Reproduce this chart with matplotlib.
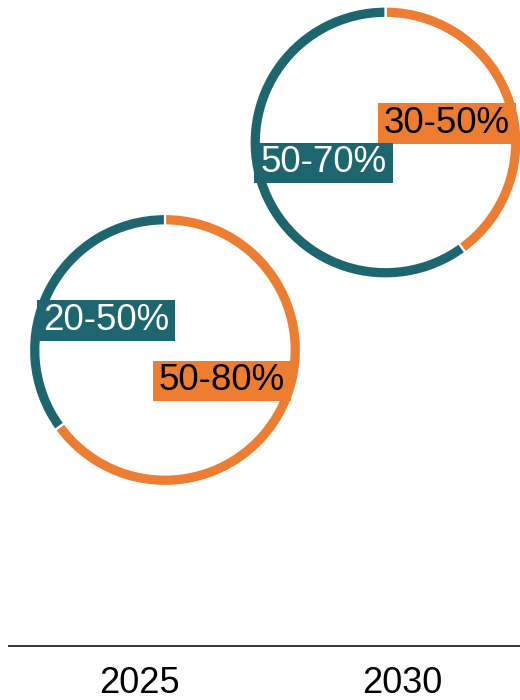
import matplotlib
matplotlib.use("Agg")
import matplotlib.pyplot as plt
from matplotlib.path import Path

# Scenario shares per year (ranges shown on the labels; rings use the range midpoint)
years = ["2025", "2030"]
orange_low = [50, 30]
orange_high = [80, 50]
teal_low = [20, 50]
teal_high = [50, 70]

ORANGE = "#ed7d31"
TEAL = "#1d6670"

plt.rcParams["font.family"] = ["Liberation Sans", "DejaVu Sans"]

fig = plt.figure(figsize=(5.2, 7.0), dpi=100)
ax = fig.add_axes([0, 0, 1, 1])


def label_box(x0, y0, width, height, mutation_size):
    # rectangular box with more room left/right than top/bottom
    px = 0.17 * mutation_size
    py = 0.08 * mutation_size
    x0, y0 = x0 - px, y0 - py
    x1, y1 = x0 + width + 2 * px, y0 + height + 2 * py
    return Path([(x0, y0), (x1, y0), (x1, y1), (x0, y1), (x0, y0)],
                closed=True)


# ring layout: centre and label offsets for each year
centers = [(165, 350), (385.5, 557.5)]
orange_offsets = [(57, -31), (61.5, 19)]
teal_offsets = [(-59, 29.5), (-62, -20.5)]
year_x = [139.5, 402.5]
radius = 136
ring_w = 11.5

for i, year in enumerate(years):
    o_mid = (orange_low[i] + orange_high[i]) / 2
    t_mid = (teal_low[i] + teal_high[i]) / 2
    cx, cy = centers[i]
    ax.pie([o_mid, t_mid], colors=[ORANGE, TEAL], startangle=90,
           counterclock=False, center=(cx, cy), radius=radius,
           wedgeprops=dict(width=ring_w, edgecolor="white", linewidth=1.6),
           frame=True)

    ox, oy = orange_offsets[i]
    ax.text(cx + ox, cy + oy, f"{orange_low[i]}-{orange_high[i]}%",
            fontsize=26.5, color="black", ha="center", va="center",
            bbox=dict(boxstyle=label_box, facecolor=ORANGE, edgecolor="none"),
            zorder=5)
    tx, ty = teal_offsets[i]
    ax.text(cx + tx, cy + ty, f"{teal_low[i]}-{teal_high[i]}%",
            fontsize=26.5, color="white", ha="center", va="center",
            bbox=dict(boxstyle=label_box, facecolor=TEAL, edgecolor="none"),
            zorder=5)

    ax.text(year_x[i], 7, year, fontsize=26, color="black",
            ha="center", va="baseline")

ax.set_xlim(0, 520)
ax.set_ylim(0, 700)
ax.set_aspect("equal")
ax.axis("off")

# category baseline
ax.plot([8, 520], [54.5, 54.5], color="black", linewidth=1.1,
        solid_capstyle="butt")

fig.savefig("out.png", dpi=100)
